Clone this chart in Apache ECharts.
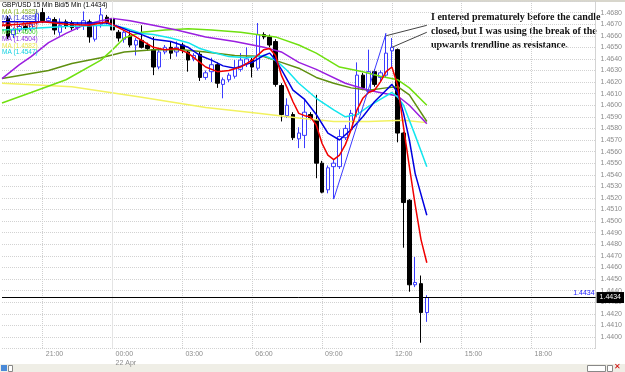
<!DOCTYPE html>
<html>
<head>
<meta charset="utf-8">
<script src="https://cdn.jsdelivr.net/npm/echarts@6/dist/echarts.min.js"></script>
<style>
  html, body { margin: 0; padding: 0; background: #fff; }
  #chart { width: 625px; height: 372px; }
</style>
</head>
<body>
<div id="chart"></div>
<script>
// 15 min GBP/USD bars, [open, close, low, high], first bar at 19:30 on 21 Apr
const candleStart = '19:30';
const candles = [
    [1.4675, 1.4659, 1.4657, 1.4677],
    [1.4661, 1.4665, 1.4658, 1.4667],
    [1.4665, 1.4668, 1.4663, 1.4670],
    [1.4668, 1.4666, 1.4664, 1.4670],
    [1.4666, 1.4670, 1.4664, 1.4672],
    [1.4671, 1.4679, 1.4670, 1.4683],
    [1.4680, 1.4673, 1.4671, 1.4684], // 21:00
    [1.4673, 1.4675, 1.4671, 1.4677],
    [1.4674, 1.4665, 1.4661, 1.4676],
    [1.4663, 1.4669, 1.4660, 1.4675],
    [1.4672, 1.4668, 1.4666, 1.4674],
    [1.4671, 1.4667, 1.4665, 1.4673],
    [1.4667, 1.4670, 1.4665, 1.4672],
    [1.4669, 1.4673, 1.4665, 1.4681],
    [1.4672, 1.4659, 1.4654, 1.4674],
    [1.4657, 1.4669, 1.4655, 1.4671],
    [1.4670, 1.4678, 1.4667, 1.4684],
    [1.4676, 1.4672, 1.4670, 1.4678],
    [1.4675, 1.4665, 1.4663, 1.4684], // 00:00
    [1.4663, 1.4658, 1.4655, 1.4665],
    [1.4657, 1.4663, 1.4654, 1.4665],
    [1.4660, 1.4652, 1.4650, 1.4664],
    [1.4652, 1.4656, 1.4643, 1.4658],
    [1.4656, 1.4650, 1.4649, 1.4669],
    [1.4652, 1.4649, 1.4647, 1.4654],
    [1.4648, 1.4633, 1.4626, 1.4659],
    [1.4633, 1.4646, 1.4631, 1.4648],
    [1.4646, 1.4650, 1.4644, 1.4652],
    [1.4650, 1.4645, 1.4640, 1.4655],
    [1.4646, 1.4650, 1.4642, 1.4655],
    [1.4652, 1.4648, 1.4645, 1.4654], // 03:00
    [1.4646, 1.4639, 1.4629, 1.4647],
    [1.4640, 1.4643, 1.4638, 1.4645],
    [1.4644, 1.4624, 1.4621, 1.4646],
    [1.4624, 1.4628, 1.4622, 1.4630],
    [1.4629, 1.4635, 1.4620, 1.4641],
    [1.4635, 1.4619, 1.4615, 1.4637],
    [1.4618, 1.4622, 1.4606, 1.4624],
    [1.4622, 1.4626, 1.4620, 1.4628],
    [1.4625, 1.4632, 1.4623, 1.4639],
    [1.4631, 1.4639, 1.4629, 1.4645],
    [1.4636, 1.4640, 1.4633, 1.4650],
    [1.4639, 1.4633, 1.4624, 1.4641], // 06:00
    [1.4632, 1.4661, 1.4630, 1.4671],
    [1.4661, 1.4659, 1.4657, 1.4663],
    [1.4659, 1.4652, 1.4650, 1.4661],
    [1.4655, 1.4618, 1.4616, 1.4657],
    [1.4617, 1.4592, 1.4586, 1.4619],
    [1.4591, 1.4600, 1.4589, 1.4606],
    [1.4592, 1.4572, 1.4570, 1.4594],
    [1.4571, 1.4576, 1.4563, 1.4581],
    [1.4574, 1.4594, 1.4563, 1.4605],
    [1.4592, 1.4589, 1.4587, 1.4594],
    [1.4587, 1.4550, 1.4537, 1.4609],
    [1.4550, 1.4525, 1.4524, 1.4552], // 09:00
    [1.4527, 1.4546, 1.4524, 1.4548],
    [1.4547, 1.4550, 1.4519, 1.4553],
    [1.4547, 1.4573, 1.4545, 1.4579],
    [1.4572, 1.4580, 1.4570, 1.4583],
    [1.4579, 1.4593, 1.4577, 1.4596],
    [1.4592, 1.4626, 1.4590, 1.4637],
    [1.4626, 1.4615, 1.4613, 1.4628],
    [1.4612, 1.4629, 1.4611, 1.4648],
    [1.4629, 1.4618, 1.4616, 1.4631],
    [1.4624, 1.4628, 1.4620, 1.4630],
    [1.4626, 1.4645, 1.4624, 1.4662],
    [1.4647, 1.4650, 1.4633, 1.4658], // 12:00
    [1.4648, 1.4576, 1.4568, 1.4649],
    [1.4576, 1.4516, 1.4477, 1.4577],
    [1.4518, 1.4445, 1.4439, 1.4519],
    [1.4445, 1.4447, 1.4443, 1.4469],
    [1.4446, 1.4421, 1.4395, 1.4453],
    [1.4421, 1.4434, 1.4413, 1.4436]
];

// moving averages at [time, price]
const maRed = [['19:15', 1.4669], ['20:00', 1.4670], ['21:00', 1.4672], ['22:00', 1.4670], ['23:00', 1.4669], ['23:45', 1.4672], ['00:15', 1.4667], ['00:45', 1.4662], ['01:15', 1.4656], ['01:45', 1.4650], ['02:15', 1.4648], ['02:45', 1.4649], ['03:15', 1.4645], ['03:45', 1.4637], ['04:00', 1.4633], ['04:30', 1.4629], ['05:00', 1.4630], ['05:30', 1.4633], ['06:00', 1.4639], ['06:30', 1.4648], ['06:45', 1.4649], ['07:00', 1.4643], ['07:15', 1.4626], ['07:30', 1.4615], ['07:45', 1.4603], ['08:00', 1.4593], ['08:15', 1.4591], ['08:30', 1.4590], ['08:45', 1.4583], ['09:00', 1.4567], ['09:15', 1.4557], ['09:30', 1.4553], ['09:45', 1.4557], ['10:00', 1.4566], ['10:15', 1.4579], ['10:30', 1.4596], ['10:45', 1.4606], ['11:00', 1.4611], ['11:15', 1.4613], ['11:30', 1.4620], ['11:45', 1.4629], ['12:00', 1.4633], ['12:15', 1.4617], ['12:30', 1.4581], ['12:45', 1.4547], ['13:00', 1.4514], ['13:15', 1.4484], ['13:30', 1.4464]];
const maBlue = [['19:15', 1.4672], ['21:00', 1.4672], ['22:30', 1.4671], ['23:45', 1.4671], ['00:15', 1.4668], ['00:45', 1.4664], ['01:15', 1.4661], ['01:45', 1.4657], ['02:30', 1.4655], ['03:15', 1.4650], ['03:45', 1.4643], ['04:15', 1.4639], ['04:45', 1.4634], ['05:15', 1.4632], ['06:00', 1.4637], ['06:30', 1.4643], ['06:45', 1.4645], ['07:00', 1.4639], ['07:15', 1.4631], ['07:45', 1.4613], ['08:15', 1.4605], ['08:45', 1.4592], ['09:15', 1.4576], ['09:45', 1.4570], ['10:15', 1.4579], ['10:45', 1.4590], ['11:15', 1.4603], ['11:45', 1.4613], ['12:00', 1.4618], ['12:15', 1.4611], ['12:30', 1.4593], ['12:45', 1.4570], ['13:00', 1.4541], ['13:30', 1.4505]];
const maCyan = [['19:15', 1.4665], ['21:00', 1.4667], ['22:00', 1.4668], ['23:45', 1.4669], ['00:30', 1.4667], ['01:15', 1.4662], ['01:45', 1.4661], ['02:30', 1.4658], ['03:15', 1.4654], ['03:45', 1.4649], ['04:15', 1.4646], ['05:00', 1.4642], ['05:45', 1.4641], ['06:30', 1.4643], ['07:00', 1.4639], ['07:30', 1.4630], ['08:00', 1.4619], ['08:45', 1.4606], ['09:30', 1.4596], ['10:00', 1.4590], ['10:30', 1.4592], ['11:00', 1.4599], ['11:30', 1.4605], ['12:00', 1.4611], ['12:15', 1.4607], ['12:30', 1.4600], ['13:00', 1.4574], ['13:30', 1.4547]];
const maPurple = [['19:15', 1.4623], ['20:00', 1.4635], ['20:30', 1.4642], ['21:15', 1.4654], ['22:00', 1.4662], ['22:45', 1.4669], ['23:30', 1.4673], ['00:00', 1.4675], ['00:45', 1.4673], ['01:45', 1.4669], ['02:45', 1.4665], ['04:00', 1.4659], ['05:15', 1.4655], ['06:30', 1.4650], ['07:15', 1.4646], ['08:00', 1.4637], ['08:45', 1.4631], ['10:00', 1.4619], ['11:00', 1.4613], ['11:45', 1.4610], ['12:15', 1.4608], ['12:45', 1.4600], ['13:30', 1.4584]];
const maOlive = [['19:15', 1.4623], ['21:15', 1.4630], ['22:15', 1.4636], ['23:30', 1.4641], ['00:30', 1.4646], ['01:45', 1.4648], ['03:00', 1.4648], ['04:00', 1.4646], ['05:15', 1.4643], ['06:30', 1.4642], ['07:15', 1.4637], ['08:00', 1.4632], ['08:45', 1.4624], ['09:30', 1.4619], ['10:15', 1.4615], ['11:00', 1.4613], ['11:45', 1.4615], ['12:15', 1.4616], ['12:45', 1.4609], ['13:30', 1.4586]];
const maGreen = [['19:15', 1.4602], ['20:30', 1.4611], ['22:00', 1.4622], ['23:30', 1.4639], ['00:00', 1.4648], ['00:30', 1.4658], ['01:15', 1.4663], ['02:15', 1.4665], ['03:15', 1.4666], ['04:15', 1.4665], ['05:30', 1.4663], ['07:00', 1.4659], ['08:00', 1.4652], ['08:45', 1.4645], ['09:45', 1.4633], ['10:45', 1.4629], ['11:30', 1.4625], ['12:15', 1.4622], ['12:45', 1.4615], ['13:30', 1.4600]];
const maYellow = [['19:15', 1.4619], ['22:15', 1.4616], ['01:15', 1.4607], ['04:00', 1.4598], ['06:15', 1.4593], ['08:00', 1.4589], ['09:30', 1.4586], ['11:00', 1.4586], ['12:30', 1.4587], ['13:30', 1.4585]];

const legendLabels = ['GBP/USD 15 Min Bid/5 Min (1.4434)', 'MA (1.4585)', 'MA (1.4585)', 'MA (1.4463)', 'MA (1.4600)', 'MA (1.4504)', 'MA (1.4582)', 'MA (1.4547)'];
const legendColors = ['#000', '#8fb82a', '#3a3ad0', '#e00000', '#3ccc28', '#8a2be2', '#e8e850', '#10d0e0'];

const lastPrice = 1.4434;
const trendLine = [['09:30', 1.4519], ['11:45', 1.4662]];
const pointers = [
    [['11:45', 1.4660], ['13:30', 1.4669]],
    [['12:00', 1.4650], ['13:30', 1.4663]]
];
const note = 'I entered prematurely before the candle\nclosed, but I was using the break of the\nupwards trendline as resistance.';

// time axis, 19:15 on 21 Apr to 20:45 on 22 Apr
const firstMinute = 19 * 60 + 15;
const categories = [];
for (let k = 0; k < 103; k++) {
    let m = firstMinute + k * 15;
    let day = m >= 1440 ? '22 Apr' : '21 Apr';
    m = m % 1440;
    let hh = String(Math.floor(m / 60)).padStart(2, '0');
    let mm = String(m % 60).padStart(2, '0');
    categories.push(day + ' ' + hh + ':' + mm);
}
function catOf(t) {
    let [h, m] = t.split(':').map(Number);
    let day = (h * 60 + m) >= firstMinute ? '21 Apr' : '22 Apr';
    return day + ' ' + t;
}

let candleMap = {};
let startIdx = categories.indexOf(catOf(candleStart));
candles.forEach((c, i) => { candleMap[startIdx + i] = c; });
let candleData = categories.map((c, i) => candleMap[i] || '-');

function maSeries(points, color, width) {
    return {
        type: 'line',
        data: points.map(p => [categories.indexOf(catOf(p[0])), p[1]]),
        symbol: 'none',
        silent: true,
        lineStyle: { color: color, width: width },
        z: 3
    };
}

function isMajor(value) {
    let t = value.slice(7);
    return t.endsWith(':00') && parseInt(t, 10) % 3 === 0;
}

let yellowSeries = maSeries(maYellow, '#f2f260', 1.5);
yellowSeries.markLine = {
    symbol: 'none',
    silent: true,
    animation: false,
    precision: 4,
    data: [{
            xAxis: catOf('00:00'),
            lineStyle: { color: '#e4e4e4', width: 1, type: 'solid' },
            label: { show: false }
        }, {
            yAxis: lastPrice,
            lineStyle: { color: '#000', width: 1, type: 'solid' },
            label: {
                position: 'end',
                formatter: lastPrice.toFixed(4),
                color: '#fff',
                backgroundColor: '#000',
                padding: [2, 3],
                fontSize: 7,
                fontFamily: 'Liberation Sans',
                distance: 1
            }
        }, {
            yAxis: lastPrice,
            lineStyle: { color: 'rgba(0,0,0,0)', width: 1 },
            label: {
                show: true,
                position: 'insideEndTop',
                formatter: lastPrice.toFixed(4),
                color: '#2020ff',
                fontSize: 7,
                fontFamily: 'Liberation Sans',
                distance: 1
            }
        },
        [{ coord: [catOf(trendLine[0][0]), trendLine[0][1]], lineStyle: { color: '#3b3bff', width: 1, type: 'solid' }, label: { show: false } },
         { coord: [catOf(trendLine[1][0]), trendLine[1][1]] }],
        ...pointers.map(p => [
            { coord: [catOf(p[0][0]), p[0][1]], lineStyle: { color: '#444', width: 1, type: 'solid' }, label: { show: false } },
            { coord: [catOf(p[1][0]), p[1][1]] }
        ])
    ]
};

let chart = echarts.init(document.getElementById('chart'));
let option = {
    animation: false,
    backgroundColor: '#fff',
    grid: { left: 2, right: 27, top: 1, bottom: 23.5 },
    xAxis: {
        type: 'category',
        data: categories,
        boundaryGap: false,
        axisLine: { show: false },
        axisTick: { show: false },
        axisLabel: {
            interval: (i, v) => isMajor(v),
            formatter: v => v.slice(7) === '00:00' ? '00:00\n22 Apr' : v.slice(7),
            fontSize: 7,
            lineHeight: 9,
            color: '#8c8c8c',
            fontFamily: 'Liberation Sans',
            align: 'left',
            padding: [0, 0, 0, 3],
            margin: 1
        },
        splitLine: {
            show: true,
            interval: (i, v) => isMajor(v),
            lineStyle: { type: 'dotted', color: '#cfcfcf' }
        }
    },
    yAxis: {
        type: 'value',
        position: 'right',
        min: 1.439,
        max: 1.469,
        interval: 0.001,
        axisLine: { show: true, lineStyle: { type: 'dotted', color: '#cfcfcf' } },
        axisTick: { show: false },
        axisLabel: {
            formatter: v => v.toFixed(4),
            fontSize: 7,
            color: '#8c8c8c',
            fontFamily: 'Liberation Sans',
            margin: 5,
            showMinLabel: false,
            showMaxLabel: false
        },
        splitLine: { lineStyle: { type: 'dotted', color: '#d2d2d2' } }
    },
    series: [{
            type: 'candlestick',
            data: candleData,
            barWidth: 4,
            silent: true,
            itemStyle: {
                color: '#ffffff',
                color0: '#000000',
                borderColor: '#3b3bff',
                borderColor0: '#000000',
                borderWidth: 1
            },
            z: 2
        },
        yellowSeries,
        maSeries(maOlive, '#5f8f10', 1.5),
        maSeries(maGreen, '#70e010', 1.5),
        maSeries(maPurple, '#9a1ee0', 1.5),
        maSeries(maCyan, '#12e6ee', 1.5),
        maSeries(maBlue, '#0000e0', 1.5),
        maSeries(maRed, '#f00000', 1.5)
    ],
    graphic: [
        { type: 'rect', left: 0, top: 0, shape: { width: 625, height: 2 }, style: { fill: '#d8d6cc' } },
        { type: 'rect', left: 0, top: 364, shape: { width: 625, height: 8 }, style: { fill: '#efeee6' } },
        { type: 'rect', left: 1, top: 365, shape: { width: 6, height: 6 }, style: { fill: '#4a8ad8' } },
        { type: 'rect', left: 8, top: 365, shape: { width: 4, height: 6 }, style: { fill: '#fff', stroke: '#888' } },
        { type: 'rect', left: 587, top: 365, shape: { width: 18, height: 6 }, style: { fill: '#fff', stroke: '#888' } },
        { type: 'rect', left: 607, top: 365, shape: { width: 5, height: 6 }, style: { fill: '#fff', stroke: '#888' } },
        { type: 'text', left: 614, top: 363, style: { text: '✕', fill: '#d00000', font: 'bold 8px "DejaVu Sans"' } },
        {
            type: 'text',
            left: 431,
            top: 10,
            style: {
                text: note,
                fill: '#111',
                font: 'bold 10px "Liberation Serif"',
                lineHeight: 14
            }
        },
        ...legendLabels.map((t, i) => ({
            type: 'text',
            left: 2,
            top: 1.5 + i * 6.8,
            z: 10,
            style: { text: t, fill: legendColors[i], font: '6.5px "Liberation Sans"' }
        }))
    ]
};
chart.setOption(option);
</script>
</body>
</html>
